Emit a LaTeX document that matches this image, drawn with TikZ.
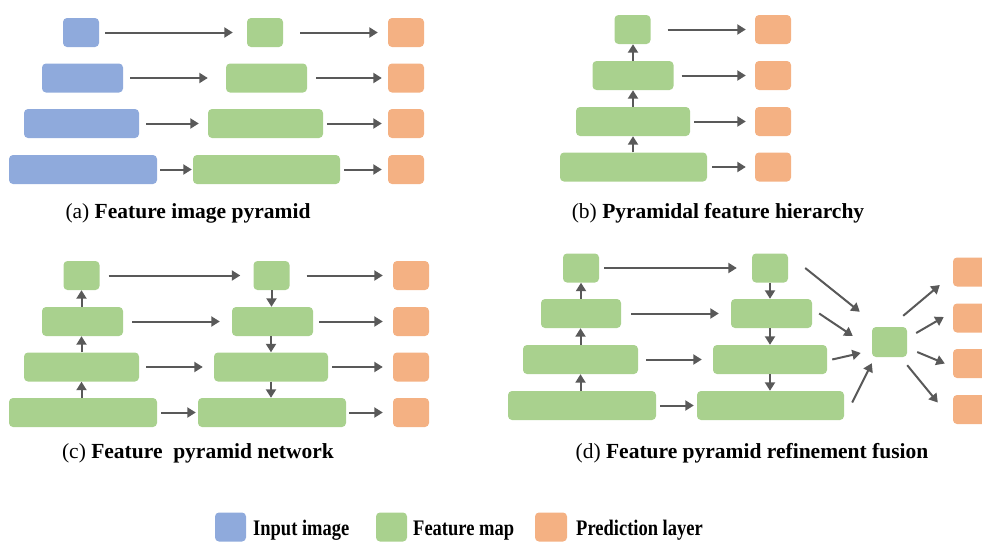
\documentclass[tikz,border=0pt]{standalone}
\usepackage{fontspec}
\setmainfont{Liberation Serif}
\usepackage{xcolor}
\usepackage{graphicx}
\usetikzlibrary{arrows.meta}

\definecolor{inblue}{HTML}{8FAADC}
\definecolor{fmgreen}{HTML}{A9D18E}
\definecolor{predorange}{HTML}{F4B183}
\definecolor{arrgray}{HTML}{595959}

\newcommand{\keylabel}[1]{\scalebox{1}[1.2]{\textbf{#1}}}

\begin{document}
\begin{tikzpicture}[x=1pt, y=-1pt,
    box/.style={rounded corners=4pt, inner sep=0pt, minimum height=29pt},
    inp/.style={box, fill=inblue},
    feat/.style={box, fill=fmgreen},
    pred/.style={box, fill=predorange, minimum width=36pt},
    arr/.style={draw=arrgray, line width=2pt, -{Triangle[length=8.5pt,width=10pt]}},
    subcap/.style={font=\fontsize{21.5}{25}\selectfont, inner sep=0pt},
    keytxt/.style={font=\fontsize{18.5}{22}\selectfont, inner sep=0pt, anchor=base west}]

        \useasboundingbox (0,0) rectangle (982,541);

        % (a) Input images
        \node[inp, minimum width=36pt] (ai1) at (81,32.5) {};
        \node[inp, minimum width=81pt] (ai2) at (82.5,78) {};
        \node[inp, minimum width=115pt] (ai3) at (81.5,123.5) {};
        \node[inp, minimum width=148pt] (ai4) at (83,169.5) {};

        % (a) Feature maps
        \node[feat, minimum width=36pt] (af1) at (265,32.5) {};
        \node[feat, minimum width=81pt] (af2) at (266.5,78) {};
        \node[feat, minimum width=115pt] (af3) at (265.5,123.5) {};
        \node[feat, minimum width=147pt] (af4) at (266.5,169.5) {};

        % (a) Predictions
        \node[pred] (ap1) at (406,32.5) {};
        \node[pred] (ap2) at (406,78) {};
        \node[pred] (ap3) at (406,123.5) {};
        \node[pred] (ap4) at (406,169.5) {};

        \draw[arr] ([xshift=6pt]ai1.east) -- ([xshift=-14pt]af1.west);
        \draw[arr] ([xshift=7pt]ai2.east) -- ([xshift=-18pt]af2.west);
        \draw[arr] ([xshift=7pt]ai3.east) -- ([xshift=-9pt]af3.west);
        \draw[arr] ([xshift=3pt]ai4.east) -- ([xshift=-1pt]af4.west);
        \draw[arr] ([xshift=17pt]af1.east) -- ([xshift=-10pt]ap1.west);
        \draw[arr] ([xshift=9pt]af2.east) -- ([xshift=-6pt]ap2.west);
        \draw[arr] ([xshift=4pt]af3.east) -- ([xshift=-6pt]ap3.west);
        \draw[arr] ([xshift=4pt]af4.east) -- ([xshift=-6pt]ap4.west);

        \node[subcap] (capa) at (188,213) {(a) \textbf{Feature image pyramid}};

        % (b) Feature hierarchy
        \node[feat, minimum width=36pt] (bf1) at (632.5,29.5) {};
        \node[feat, minimum width=81pt] (bf2) at (633,75.5) {};
        \node[feat, minimum width=114pt] (bf3) at (633,121.5) {};
        \node[feat, minimum width=147pt] (bf4) at (633.5,167) {};

        \node[pred] (bp1) at (773,29.5) {};
        \node[pred] (bp2) at (773,75.5) {};
        \node[pred] (bp3) at (773,121.5) {};
        \node[pred] (bp4) at (773,167) {};

        \draw[arr] (bf4.north -| bf3.south) -- (bf3.south);
        \draw[arr] (bf3.north) -- (bf2.south -| bf3.north);
        \draw[arr] (bf2.north) -- (bf1.south -| bf2.north);
        \draw[arr] ([xshift=17pt]bf1.east) -- ([xshift=-9pt]bp1.west);
        \draw[arr] ([xshift=8pt]bf2.east) -- ([xshift=-9pt]bp2.west);
        \draw[arr] ([xshift=4pt]bf3.east) -- ([xshift=-9pt]bp3.west);
        \draw[arr] ([xshift=5pt]bf4.east) -- ([xshift=-9pt]bp4.west);

        \node[subcap] (capb) at (718,213) {(b) \textbf{Pyramidal feature hierarchy}};

        % (c) Bottom-up path
        \node[feat, minimum width=36pt] (cl1) at (81.5,275.5) {};
        \node[feat, minimum width=81pt] (cl2) at (82.5,321.5) {};
        \node[feat, minimum width=115pt] (cl3) at (81.5,367) {};
        \node[feat, minimum width=148pt] (cl4) at (83,412.5) {};

        % (c) Top-down path
        \node[feat, minimum width=36pt] (cm1) at (271.5,275.5) {};
        \node[feat, minimum width=81pt] (cm2) at (272.5,321.5) {};
        \node[feat, minimum width=114pt] (cm3) at (271,367) {};
        \node[feat, minimum width=148pt] (cm4) at (272,412.5) {};

        \node[pred] (cp1) at (411,275.5) {};
        \node[pred] (cp2) at (411,321.5) {};
        \node[pred] (cp3) at (411,367) {};
        \node[pred] (cp4) at (411,412.5) {};

        \draw[arr] (cl4.north -| cl3.south) -- (cl3.south);
        \draw[arr] (cl3.north) -- (cl2.south -| cl3.north);
        \draw[arr] (cl2.north -| cl1.south) -- (cl1.south);
        \draw[arr] (cm1.south) -- (cm2.north -| cm1.south);
        \draw[arr] (cm2.south -| cm3.north) -- (cm3.north);
        \draw[arr] (cm3.south) -- (cm4.north -| cm3.south);

        \draw[arr] ([xshift=9pt]cl1.east) -- ([xshift=-13pt]cm1.west);
        \draw[arr] ([xshift=9pt]cl2.east) -- ([xshift=-12pt]cm2.west);
        \draw[arr] ([xshift=7pt]cl3.east) -- ([xshift=-11pt]cm3.west);
        \draw[arr] ([xshift=4pt]cl4.east) -- ([xshift=-2pt]cm4.west);
        \draw[arr] ([xshift=17pt]cm1.east) -- ([xshift=-10pt]cp1.west);
        \draw[arr] ([xshift=6pt]cm2.east) -- ([xshift=-10pt]cp2.west);
        \draw[arr] ([xshift=4pt]cm3.east) -- ([xshift=-10pt]cp3.west);
        \draw[arr] ([xshift=3pt]cm4.east) -- ([xshift=-10pt]cp4.west);

        \node[subcap] (capc) at (198,453) {(c) \textbf{Feature\ \ pyramid network}};

        % (d) Bottom-up and top-down paths
        \node[feat, minimum width=36pt] (dl1) at (581,268) {};
        \node[feat, minimum width=80pt] (dl2) at (581,313.5) {};
        \node[feat, minimum width=115pt] (dl3) at (580.5,359.5) {};
        \node[feat, minimum width=148pt] (dl4) at (582,405.5) {};

        \node[feat, minimum width=36pt] (dm1) at (770,268) {};
        \node[feat, minimum width=81pt] (dm2) at (771.5,313.5) {};
        \node[feat, minimum width=114pt] (dm3) at (770,359.5) {};
        \node[feat, minimum width=147pt] (dm4) at (770.5,405.5) {};

        % (d) Fusion and predictions
        \node[feat, minimum width=35pt, minimum height=30pt] (df) at (889.5,342) {};
        \node[pred] (dp1) at (971,272) {};
        \node[pred] (dp2) at (971,318) {};
        \node[pred] (dp3) at (971,363.5) {};
        \node[pred] (dp4) at (971,409.5) {};

        \draw[arr] (dl4.north -| dl3.south) -- (dl3.south);
        \draw[arr] (dl3.north) -- (dl2.south -| dl3.north);
        \draw[arr] (dl2.north -| dl1.south) -- (dl1.south);
        \draw[arr] (dm1.south) -- (dm2.north -| dm1.south);
        \draw[arr] (dm2.south -| dm1.south) -- (dm3.north -| dm1.south);
        \draw[arr] (dm3.south -| dm1.south) -- (dm4.north -| dm1.south);

        \draw[arr] ([xshift=5pt]dl1.east) -- ([xshift=-15pt]dm1.west);
        \draw[arr] ([xshift=10pt]dl2.east) -- ([xshift=-12pt]dm2.west);
        \draw[arr] ([xshift=8pt]dl3.east) -- ([xshift=-11pt]dm3.west);
        \draw[arr] ([xshift=4pt]dl4.east) -- ([xshift=-3pt]dm4.west);

        % Into the fusion box
        \draw[arr] ([shift={(17,0)}]dm1.east) -- ([shift={(-12,-15)}]df.north west);
        \draw[arr] ([shift={(7,0)}]dm2.east) -- ([shift={(-19,-6)}]df.west);
        \draw[arr] ([shift={(5,0)}]dm3.east) -- ([shift={(-11,11)}]df.west);
        \draw[arr] ([shift={(8,-3)}]dm4.east) -- ([shift={(0,6)}]df.south west);

        % Out of the fusion box
        \draw[arr] ([shift={(-4,-11)}]df.north east) -- ([shift={(-13,13)}]dp1.west);
        \draw[arr] ([shift={(9,-9)}]df.east) -- ([shift={(-9,-1)}]dp2.west);
        \draw[arr] ([shift={(10,10)}]df.east) -- ([shift={(-8,0)}]dp3.west);
        \draw[arr] ([shift={(0,8)}]df.south east) -- ([shift={(-15,-7)}]dp4.west);

        \node[subcap] (capd) at (752,453) {(d) \textbf{Feature pyramid refinement fusion}};

        % Legend
        \node[inp, minimum width=31pt] (keyin) at (230.5,527) {};
        \node[keytxt] (keyintxt) at (253,535) {\keylabel{Input image}};
        \node[feat, minimum width=31pt] (keyfm) at (391.5,527) {};
        \node[keytxt] (keyfmtxt) at (413,535) {\keylabel{Feature map}};
        \node[pred, minimum width=32pt] (keypr) at (551,527) {};
        \node[keytxt] (keyprtxt) at (576,535) {\keylabel{Prediction layer}};

    \end{tikzpicture}
\end{document}
